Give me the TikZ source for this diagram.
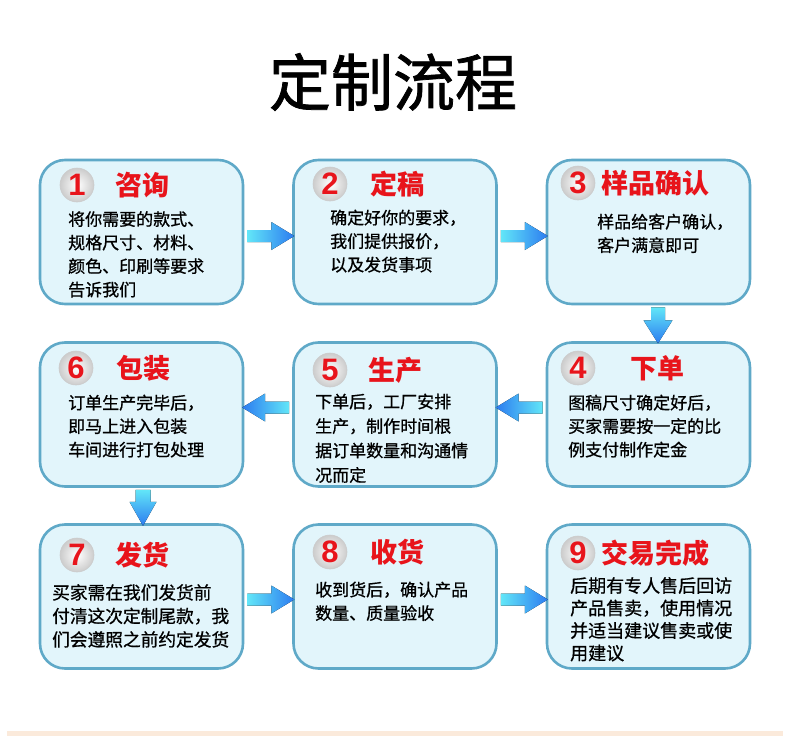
\documentclass[tikz,border=0pt]{standalone}
\usepackage{fontspec}
\setmainfont{Noto Sans CJK SC}
\newfontfamily\bodyfont[FakeBold=0.8]{Noto Sans CJK SC}
\newfontfamily\titlefont[FakeBold=1.2]{Noto Sans CJK SC}
\newfontfamily\numfont{Liberation Sans}
\usetikzlibrary{calc}
\definecolor{boxfill}{HTML}{E2F5FB}
\definecolor{boxline}{HTML}{5FA9C8}
\definecolor{arrcyan}{HTML}{62E6F8}
\definecolor{arrblue}{HTML}{2C7CF0}
\definecolor{headred}{HTML}{E8141B}
\definecolor{strip}{HTML}{FBEADB}
\tikzset{
  stepbox/.style={draw=boxline, line width=2.6pt, fill=boxfill, rounded corners=25pt,
    minimum width=203pt, minimum height=144pt, inner sep=0pt},
  numball/.style={circle, minimum size=34pt, inner sep=0pt, draw=gray!40, line width=0.6pt,
    inner color=white, outer color=gray!40, text=headred,
    font=\fontsize{31}{31}\selectfont\numfont\bfseries},
  head/.style={anchor=west, inner sep=0pt, text=headred, font=\fontsize{27}{27}\selectfont\bfseries},
  body/.style={anchor=north west, inner sep=0pt, align=left, text=black,
    font=\fontsize{17}{23.5}\selectfont\bodyfont},
  rarrow/.style={left color=arrcyan, right color=arrblue},
  larrow/.style={left color=arrblue, right color=arrcyan},
  darrow/.style={top color=arrcyan, bottom color=arrblue},
}
\begin{document}
\begin{tikzpicture}[x=1pt,y=-1pt]
\useasboundingbox (0,0) rectangle (790,736);
\fill[white] (0,0) rectangle (790,736);
\fill[strip] (7,731) rectangle (783,736);

\node[font=\fontsize{62}{62}\selectfont\titlefont] (title) at (393,82) {定制流程};

% boxes
\node[stepbox] (b1) at (141.5,232) {};
\node[stepbox] (b2) at (395,232) {};
\node[stepbox] (b3) at (648.5,232) {};
\node[stepbox] (b6) at (141.5,414.5) {};
\node[stepbox] (b5) at (395,414.5) {};
\node[stepbox] (b4) at (648.5,414.5) {};
\node[stepbox] (b7) at (141.5,596.5) {};
\node[stepbox] (b8) at (395,596.5) {};
\node[stepbox] (b9) at (648.5,596.5) {};

% numbers
\node[numball] (n1) at (77,185) {1};
\node[numball] (n2) at (330,184) {2};
\node[numball] (n3) at (578,183) {3};
\node[numball] (n4) at (578,368) {4};
\node[numball] (n5) at (330,370) {5};
\node[numball] (n6) at (76,368) {6};
\node[numball] (n7) at (77,555) {7};
\node[numball] (n8) at (330,552) {8};
\node[numball] (n9) at (578,553) {9};

% headings
\node[head] (h1) at (115,185) {咨询};
\node[head] (h2) at (370,184) {定稿};
\node[head] (h3) at (601,183) {样品确认};
\node[head] (h4) at (630,368) {下单};
\node[head] (h5) at (368,370) {生产};
\node[head] (h6) at (116,368) {包装};
\node[head] (h7) at (115,555) {发货};
\node[head] (h8) at (370,552) {收货};
\node[head] (h9) at (601,553) {交易完成};

% body texts
\node[body] (t1) at (68,211) {将你需要的款式、\\规格尺寸、材料、\\颜色、印刷等要求\\告诉我们};
\node[body] (t2) at (330,209.5) {确定好你的要求，\\我们提供报价，\\以及发货事项};
\node[body] (t3) at (597,213.5) {样品给客户确认，\\客户满意即可};
\node[body] (t4) at (568,394.5) {图稿尺寸确定好后，\\买家需要按一定的比\\例支付制作定金};
\node[body, font=\fontsize{17}{24.5}\selectfont\bodyfont] (t5) at (315,393.5) {下单后，工厂安排\\生产，制作时间根\\据订单数量和沟通情\\况而定};
\node[body] (t6) at (68,394.5) {订单生产完毕后，\\即马上进入包装\\车间进行打包处理};
\node[body, font=\fontsize{17.7}{23.5}\selectfont\bodyfont] (t7) at (52,584) {买家需在我们发货前\\付清这次定制尾款，我\\们会遵照之前约定发货};
\node[body] (t8) at (315,581.5) {收到货后，确认产品\\数量、质量验收};
\node[body, font=\fontsize{18}{22.5}\selectfont\bodyfont] (t9) at (570,577) {后期有专人售后回访\\产品售卖，使用情况\\并适当建议售卖或使\\用建议};

% horizontal arrows (right)
\fill[rarrow] ($(b1.east)+(3,4)$) coordinate (a12) ++(0,-6) -- ++(24,0) -- ++(0,-8) -- ++(23,14) -- ++(-23,14) -- ++(0,-8) -- ++(-24,0) -- cycle;
\fill[rarrow] ($(b2.east)+(3,4)$) coordinate (a23) ++(0,-6) -- ++(24,0) -- ++(0,-8) -- ++(23,14) -- ++(-23,14) -- ++(0,-8) -- ++(-24,0) -- cycle;
\fill[rarrow] ($(b7.east)+(3,3)$) coordinate (a78) ++(0,-6) -- ++(24,0) -- ++(0,-8) -- ++(23,14) -- ++(-23,14) -- ++(0,-8) -- ++(-24,0) -- cycle;
\fill[rarrow] ($(b8.east)+(3,3)$) coordinate (a89) ++(0,-6) -- ++(24,0) -- ++(0,-8) -- ++(23,14) -- ++(-23,14) -- ++(0,-8) -- ++(-24,0) -- cycle;
% horizontal arrows (left)
\fill[larrow] ($(b4.west)+(-3,-7)$) coordinate (a45) ++(0,-6) -- ++(-24,0) -- ++(0,-8) -- ++(-23,14) -- ++(23,14) -- ++(0,-8) -- ++(24,0) -- cycle;
\fill[larrow] ($(b5.west)+(-3,-7)$) coordinate (a56) ++(0,-6) -- ++(-24,0) -- ++(0,-8) -- ++(-23,14) -- ++(23,14) -- ++(0,-8) -- ++(24,0) -- cycle;
% vertical arrows
\fill[darrow] ($(b3.south)+(9.5,2)$) coordinate (a34) ++(-7,0) -- ++(0,13) -- ++(-7.5,0) -- ++(14.5,23) -- ++(14.5,-23) -- ++(-7.5,0) -- ++(0,-13) -- cycle;
\fill[darrow] ($(b6.south)+(1.5,2)$) coordinate (a67) ++(-7.5,0) -- ++(0,12) -- ++(-6,0) -- ++(13.5,24) -- ++(13.5,-24) -- ++(-6,0) -- ++(0,-12) -- cycle;
\end{tikzpicture}
\end{document}
